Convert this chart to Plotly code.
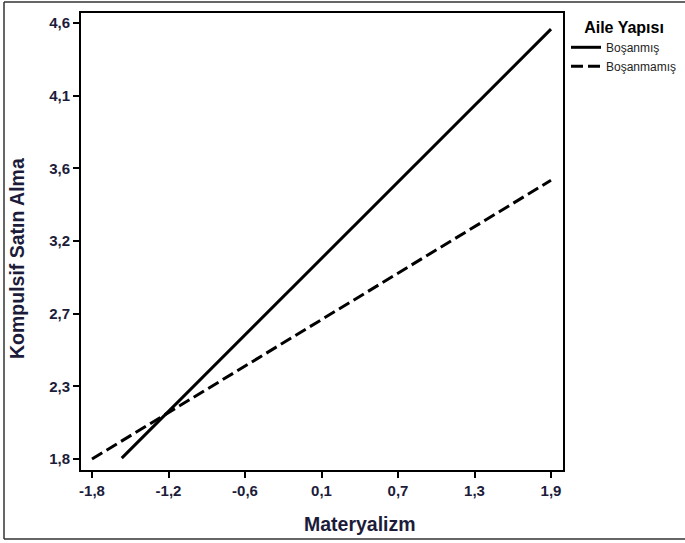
import numpy as np
import plotly.graph_objects as go

# Data
materyalizm_bosanmis = [-1.56, 1.90]
kompulsif_bosanmis = [1.806, 4.561]
materyalizm_bosanmamis = [-1.80, 1.90]
kompulsif_bosanmamis = [1.800, 3.590]

series_names = ["Boşanmış", "Boşanmamış"]
legend_title = "Aile Yapısı"
x_title = "Materyalizm"
y_title = "Kompulsif Satın Alma"

x_tick_labels = ["-1,8", "-1,2", "-0,6", "0,1", "0,7", "1,3", "1,9"]
y_tick_labels = ["1,8", "2,3", "2,7", "3,2", "3,6", "4,1", "4,6"]

W, H = 685, 543
L, R, T, B = 81, 563, 13, 470

x_tickvals = list(np.linspace(-1.8, 1.9, len(x_tick_labels)))
y_tickvals = list(np.linspace(1.8, 4.6, len(y_tick_labels)))

# axis ranges from pixel positions of end ticks
xpx = (551 - 92) / 3.7
ypx = (459 - 23) / 2.8
x_range = [-1.8 - (92 - L) / xpx, 1.9 + (R - 551) / xpx]
y_range = [1.8 - (B - 459) / ypx, 4.6 + (23 - T) / ypx]

def px_x(p):
    return (p - L) / (R - L)

def px_y(p):
    return (B - p) / (B - T)

FONT = "Liberation Sans, Arial, sans-serif"
TICKC = "#1c1c3a"

fig = go.Figure()
fig.add_trace(go.Scatter(x=materyalizm_bosanmis, y=kompulsif_bosanmis, mode="lines",
                         name=series_names[0], line=dict(color="black", width=3)))
fig.add_trace(go.Scatter(x=materyalizm_bosanmamis, y=kompulsif_bosanmamis, mode="lines",
                         name=series_names[1], line=dict(color="black", width=3, dash="12px,5px")))

axis_common = dict(showline=True, linecolor="black", linewidth=2, mirror=True,
                   ticks="outside", ticklen=6, tickwidth=2, tickcolor="black",
                   showgrid=False, zeroline=False,
                   tickfont=dict(family=FONT, size=15, color=TICKC))

fig.update_xaxes(range=x_range, tickvals=x_tickvals,
                 ticktext=["<b>" + t + "</b>" for t in x_tick_labels], **axis_common)
fig.update_yaxes(range=y_range, tickvals=y_tickvals,
                 ticktext=["<b>" + t + "</b>" for t in y_tick_labels], **axis_common)

fig.update_layout(
    width=W, height=H,
    margin=dict(l=L, r=W - R, t=T, b=H - B, pad=0, autoexpand=False),
    plot_bgcolor="white", paper_bgcolor="white",
    font=dict(family=FONT, color="black"),
    legend=dict(
        title=dict(text="<b>" + legend_title + "</b>", font=dict(family=FONT, size=16, color="black"),
                   side="top center"),
        xref="container", yref="container",
        x=566 / W, y=1 - 12 / H, xanchor="left", yanchor="top",
        font=dict(family=FONT, size=12, color="#222"),
        itemwidth=30, bgcolor="rgba(0,0,0,0)",
        tracegroupgap=0,
    ),
    annotations=[
        dict(text="<b>" + x_title + "</b>", x=px_x(360), y=px_y(524), xref="paper", yref="paper",
             showarrow=False, font=dict(family=FONT, size=19.5, color=TICKC), xanchor="center", yanchor="middle"),
        dict(text="<b>" + y_title + "</b>", x=px_x(17), y=px_y(259), xref="paper", yref="paper",
             showarrow=False, textangle=-90, font=dict(family=FONT, size=19.5, color=TICKC),
             xanchor="center", yanchor="middle"),
    ],
    shapes=[
        dict(type="line", xref="paper", yref="paper", x0=px_x(4), x1=px_x(4), y0=px_y(2), y1=px_y(539),
             line=dict(color="#333", width=1.5)),
        dict(type="line", xref="paper", yref="paper", x0=px_x(4), x1=px_x(700), y0=px_y(2), y1=px_y(2),
             line=dict(color="#333", width=1.5)),
        dict(type="line", xref="paper", yref="paper", x0=px_x(4), x1=px_x(700), y0=px_y(539), y1=px_y(539),
             line=dict(color="#333", width=1.5)),
    ],
)

fig.write_html("out.html", config={"displayModeBar": False},
               post_script="document.body.style.margin='0';document.body.style.padding='0';")
